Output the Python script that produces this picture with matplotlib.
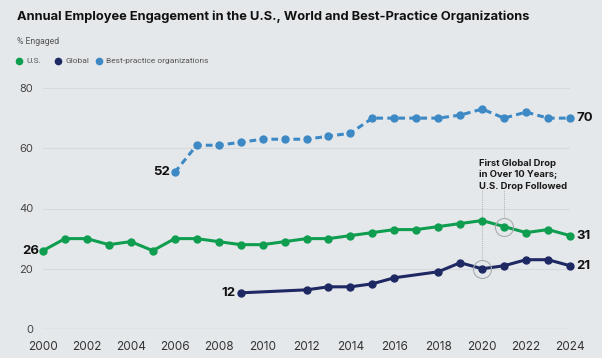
import matplotlib
matplotlib.use("Agg")
import matplotlib.pyplot as plt
from matplotlib.lines import Line2D

plt.rcParams['font.family'] = ['Inter', 'DejaVu Sans']

us_years = list(range(2000, 2025))
us_vals = [26, 30, 30, 28, 29, 26, 30, 30, 29, 28, 28, 29, 30, 30, 31, 32, 33, 33, 34, 35, 36, 34, 32, 33, 31]

gl_years = [2009, 2012, 2013, 2014, 2015, 2016, 2018, 2019, 2020, 2021, 2022, 2023, 2024]
gl_vals = [12, 13, 14, 14, 15, 17, 19, 22, 20, 21, 23, 23, 21]

bp_years = list(range(2006, 2025))
bp_vals = [52, 61, 61, 62, 63, 63, 63, 64, 65, 70, 70, 70, 70, 71, 73, 70, 72, 70, 70]

x_ticks = list(range(2000, 2025, 2))
y_ticks = [0, 20, 40, 60, 80]

title = "Annual Employee Engagement in the U.S., World and Best-Practice Organizations"
subtitle = "% Engaged"
series_names = ["U.S.", "Global", "Best-practice organizations"]
annotation = "First Global Drop\nin Over 10 Years;\nU.S. Drop Followed"

bg = "#e5e8ea"
c_us = "#0f9d50"
c_gl = "#1e2863"
c_bp = "#3d89c5"

W, H = 602, 358
fig = plt.figure(figsize=(W / 100, H / 100), dpi=100, facecolor=bg)
ax = fig.add_axes([43 / W, (H - 329) / H, 527 / W, 241 / H], facecolor=bg)

ax.set_xlim(2000, 2024)
ax.set_ylim(0, 80)
for y in y_ticks:
    ax.axhline(y, color="#c9cdd0" if y == 0 else "#d6dadd", lw=1.0 if y == 0 else 0.8, zorder=0)

for s in ax.spines.values():
    s.set_visible(False)
ax.set_xticks(x_ticks)
ax.set_yticks(y_ticks)
ax.tick_params(length=0)
ax.tick_params(axis='x', labelsize=8.5, colors="#333333", pad=9)
ax.tick_params(axis='y', labelsize=8, colors="#444444", pad=7)

# annotation guide lines
ax.plot([2020, 2020], [23.2, 46], color="#b0b3b6", lw=0.7, ls=(0, (1, 1)), zorder=1)
ax.plot([2021, 2021], [37.2, 46], color="#b0b3b6", lw=0.7, ls=(0, (1, 1)), zorder=1)

ax.plot(us_years, us_vals, color=c_us, lw=2.2, marker='o', ms=5, clip_on=False, zorder=3)
ax.plot(gl_years, gl_vals, color=c_gl, lw=2.2, marker='o', ms=5, clip_on=False, zorder=3)
ax.plot(bp_years, bp_vals, color=c_bp, lw=2.2, ls=(0, (2.2, 1.4)), marker='o', ms=5, clip_on=False, zorder=3)

# circles
ax.plot([2020], [gl_vals[gl_years.index(2020)]], marker='o', ms=13, mfc='none', mec="#a9acaf", mew=0.8, zorder=4)
ax.plot([2021], [us_vals[us_years.index(2021)]], marker='o', ms=13, mfc='none', mec="#a9acaf", mew=0.8, zorder=4)

ax.text(2019.87, 56.3, annotation, fontsize=6.8, fontweight='bold', color="#1a1a1a",
        va='top', ha='left', linespacing=1.3)

lab_kw = dict(fontsize=9.5, fontweight='bold', color="#111111", va='center')
ax.text(us_years[0] - 0.15, us_vals[0], str(us_vals[0]), ha='right', **lab_kw)
ax.text(gl_years[0] - 0.25, gl_vals[0], str(gl_vals[0]), ha='right', **lab_kw)
ax.text(bp_years[0] - 0.2, bp_vals[0], str(bp_vals[0]), ha='right', **lab_kw)
ax.text(us_years[-1] + 0.3, us_vals[-1], str(us_vals[-1]), ha='left', **lab_kw)
ax.text(gl_years[-1] + 0.3, gl_vals[-1], str(gl_vals[-1]), ha='left', **lab_kw)
ax.text(bp_years[-1] + 0.3, bp_vals[-1], str(bp_vals[-1]), ha='left', **lab_kw)

fig.text(17 / W, 1 - 17 / H, title, fontsize=9.3, fontweight='bold', color="#111111", va='center', ha='left')
fig.text(17 / W, 1 - 41 / H, subtitle, fontsize=6.2, color="#555555", va='center', ha='left',
         family=['Roboto', 'DejaVu Sans'])

leg_x = [19, 58, 99]
for xx, name, c in zip(leg_x, series_names, [c_us, c_gl, c_bp]):
    fig.add_artist(Line2D([xx / W], [1 - 61 / H], marker='o', ms=4.5, color=c, ls='none'))
    fig.text((xx + 7) / W, 1 - 61 / H, name, fontsize=6.0, color="#555555", va='center', ha='left',
             family=['Roboto', 'DejaVu Sans'])

fig.savefig("out.png", dpi=100, facecolor=bg)
